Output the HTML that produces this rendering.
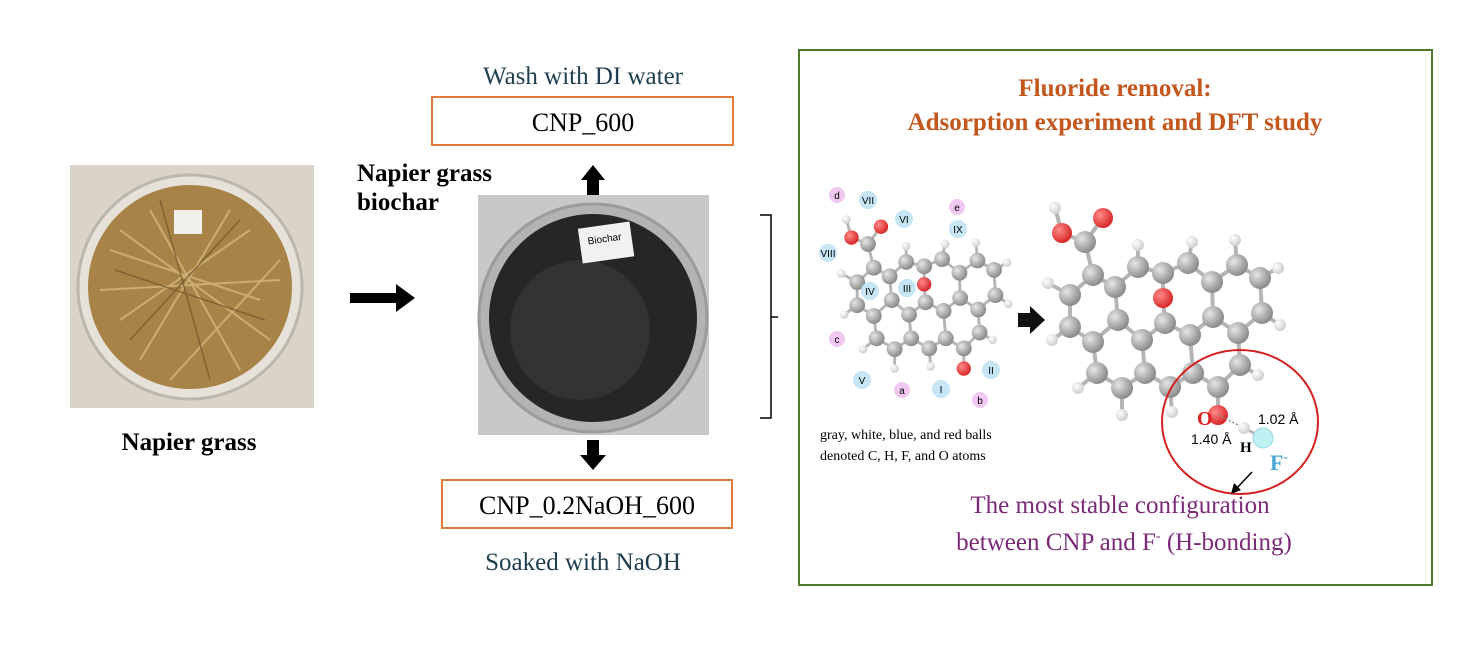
<!DOCTYPE html>
<html><head><meta charset="utf-8"><style>
body{margin:0;background:#fff;}
svg{display:block}
</style></head><body>
<svg width="1475" height="650" viewBox="0 0 1475 650" xmlns="http://www.w3.org/2000/svg" font-family="Liberation Serif, serif">
<defs>
<radialGradient id="gc" cx="35%" cy="35%" r="65%"><stop offset="0" stop-color="#e6e6e6"/><stop offset="1" stop-color="#8c8c8c"/></radialGradient>
<radialGradient id="rc" cx="35%" cy="35%" r="65%"><stop offset="0" stop-color="#ff8a8a"/><stop offset="1" stop-color="#d92a2a"/></radialGradient>
<radialGradient id="hc" cx="35%" cy="35%" r="65%"><stop offset="0" stop-color="#ffffff"/><stop offset="1" stop-color="#cfcfcf"/></radialGradient>
<g id="mol">
<g stroke="#b5b5b5" stroke-width="4" fill="none">
<polyline points="1085,242 1093,275 1070,295 1070,327 1093,342 1118,320 1115,287 1093,275"/>
<polyline points="1115,287 1138,267 1163,273 1163,298 1165,323 1142,340 1118,320"/>
<polyline points="1165,323 1190,335 1213,317 1212,282 1188,263 1163,273"/>
<polyline points="1212,282 1237,265 1260,278 1262,313 1238,333 1213,317"/>
<polyline points="1093,342 1097,373 1122,388 1145,373 1142,340"/>
<polyline points="1145,373 1170,387 1193,373 1190,335"/>
<polyline points="1193,373 1218,387 1240,365 1238,333"/>
<line x1="1218" y1="387" x2="1218" y2="415"/>
<polyline points="1055,208 1062,233 1085,242 1103,218"/>
<line x1="1138" y1="267" x2="1138" y2="245"/><line x1="1188" y1="263" x2="1192" y2="242"/>
<line x1="1237" y1="265" x2="1235" y2="240"/><line x1="1260" y1="278" x2="1278" y2="268"/>
<line x1="1262" y1="313" x2="1280" y2="325"/><line x1="1240" y1="365" x2="1258" y2="375"/>
<line x1="1170" y1="387" x2="1172" y2="412"/><line x1="1122" y1="388" x2="1122" y2="415"/>
<line x1="1097" y1="373" x2="1078" y2="388"/><line x1="1070" y1="327" x2="1052" y2="340"/>
<line x1="1070" y1="295" x2="1048" y2="283"/>
</g>
<g fill="url(#hc)">
<circle cx="1055" cy="208" r="6"/><circle cx="1138" cy="245" r="6"/><circle cx="1192" cy="242" r="6"/><circle cx="1235" cy="240" r="6"/><circle cx="1278" cy="268" r="6"/><circle cx="1280" cy="325" r="6"/><circle cx="1258" cy="375" r="6"/><circle cx="1172" cy="412" r="6"/><circle cx="1122" cy="415" r="6"/><circle cx="1078" cy="388" r="6"/><circle cx="1052" cy="340" r="6"/><circle cx="1048" cy="283" r="6"/>
</g>
<g fill="url(#gc)">
<circle cx="1085" cy="242" r="11"/><circle cx="1093" cy="275" r="11"/><circle cx="1070" cy="295" r="11"/><circle cx="1070" cy="327" r="11"/><circle cx="1093" cy="342" r="11"/><circle cx="1115" cy="287" r="11"/><circle cx="1118" cy="320" r="11"/><circle cx="1138" cy="267" r="11"/><circle cx="1163" cy="273" r="11"/><circle cx="1165" cy="323" r="11"/><circle cx="1142" cy="340" r="11"/><circle cx="1188" cy="263" r="11"/><circle cx="1212" cy="282" r="11"/><circle cx="1213" cy="317" r="11"/><circle cx="1190" cy="335" r="11"/><circle cx="1237" cy="265" r="11"/><circle cx="1260" cy="278" r="11"/><circle cx="1262" cy="313" r="11"/><circle cx="1238" cy="333" r="11"/><circle cx="1097" cy="373" r="11"/><circle cx="1122" cy="388" r="11"/><circle cx="1145" cy="373" r="11"/><circle cx="1170" cy="387" r="11"/><circle cx="1193" cy="373" r="11"/><circle cx="1218" cy="387" r="11"/><circle cx="1240" cy="365" r="11"/>
</g>
<g fill="url(#rc)">
<circle cx="1163" cy="298" r="10"/><circle cx="1062" cy="233" r="10"/><circle cx="1103" cy="218" r="10"/><circle cx="1218" cy="415" r="10"/>
</g>
</g>
</defs>

<!-- left photo -->
<rect x="70" y="165" width="244" height="243" fill="#d9d3c8"/>
<circle cx="190" cy="287" r="112" fill="#e6e2da" stroke="#bdb7ab" stroke-width="3"/>
<circle cx="190" cy="287" r="102" fill="#a88348"/>
<g stroke="#d4b77c" stroke-width="2" opacity="0.8">
<line x1="110" y1="250" x2="260" y2="300"/><line x1="120" y1="320" x2="250" y2="230"/><line x1="140" y1="360" x2="230" y2="210"/><line x1="100" y1="290" x2="280" y2="280"/><line x1="150" y1="210" x2="240" y2="370"/><line x1="120" y1="230" x2="270" y2="340"/><line x1="170" y1="380" x2="280" y2="260"/>
</g>
<g stroke="#6f5428" stroke-width="1.5" opacity="0.7">
<line x1="115" y1="270" x2="265" y2="320"/><line x1="130" y1="340" x2="240" y2="220"/><line x1="160" y1="200" x2="210" y2="380"/>
</g>
<rect x="174" y="210" width="28" height="24" fill="#f2f0ea"/>
<text x="189" y="450" font-size="25" font-weight="bold" text-anchor="middle">Napier grass</text>

<!-- arrow right -->
<rect x="350" y="293" width="48" height="10" fill="#000"/>
<polygon points="396,284 415,298 396,312" fill="#000"/>

<text x="357" y="181" font-size="25" font-weight="bold">Napier grass</text>
<text x="357" y="210" font-size="25" font-weight="bold">biochar</text>

<!-- middle photo -->
<rect x="478" y="195" width="231" height="240" fill="#c9c8c6"/>
<circle cx="593" cy="318" r="114" fill="#b4b3b1" stroke="#9c9b99" stroke-width="3"/>
<circle cx="593" cy="318" r="104" fill="#262626"/>
<circle cx="580" cy="330" r="70" fill="#333"/>
<rect x="580" y="225" width="52" height="35" fill="#f1f1ef" transform="rotate(-8 606 242)"/>
<text x="588" y="242" font-size="10" font-family="Liberation Sans, sans-serif" transform="rotate(-8 606 242)">Biochar</text>

<!-- up/down arrows -->
<rect x="587" y="178" width="12" height="17" fill="#000"/><polygon points="581,180 593,165 605,180" fill="#000"/>
<rect x="587" y="440" width="12" height="16" fill="#000"/><polygon points="580,455 606,455 593,470" fill="#000"/>

<text x="583" y="84" font-size="25" text-anchor="middle" fill="#1f3e4e">Wash with DI water</text>
<rect x="432" y="97" width="301" height="48" fill="none" stroke="#e07b39" stroke-width="2"/>
<text x="583" y="131" font-size="26" text-anchor="middle">CNP_600</text>
<rect x="442" y="480" width="290" height="48" fill="none" stroke="#e07b39" stroke-width="2"/>
<text x="587" y="514" font-size="26" text-anchor="middle">CNP_0.2NaOH_600</text>
<text x="583" y="570" font-size="25" text-anchor="middle" fill="#1f3e4e">Soaked with NaOH</text>

<!-- bracket -->
<path d="M760,215 H771 V418 H760" fill="none" stroke="#000" stroke-width="1.5"/>
<line x1="771" y1="317" x2="778" y2="317" stroke="#000" stroke-width="1.5"/>

<!-- green box -->
<rect x="799" y="50" width="633" height="535" fill="none" stroke="#4f7b2f" stroke-width="2"/>
<text x="1115" y="96" font-size="25" font-weight="bold" text-anchor="middle" fill="#c3571d">Fluoride removal:</text>
<text x="1115" y="130" font-size="25" font-weight="bold" text-anchor="middle" fill="#c3571d">Adsorption experiment and DFT study</text>

<!-- left molecule -->
<use href="#mol" transform="translate(868,244) scale(0.72) translate(-1085,-242)"/>
<g font-family="Liberation Sans, sans-serif" font-size="10" text-anchor="middle">
<circle cx="837" cy="195" r="8" fill="#f0c8f0"/><text x="837" y="199">d</text>
<circle cx="868" cy="200" r="9" fill="#c6e6f6"/><text x="868" y="204">VII</text>
<circle cx="904" cy="219" r="9" fill="#c6e6f6"/><text x="904" y="223">VI</text>
<circle cx="957" cy="207" r="8" fill="#f0c8f0"/><text x="957" y="211">e</text>
<circle cx="958" cy="229" r="9" fill="#c6e6f6"/><text x="958" y="233">IX</text>
<circle cx="828" cy="253" r="9" fill="#c6e6f6"/><text x="828" y="257">VIII</text>
<circle cx="870" cy="291" r="9" fill="#c6e6f6"/><text x="870" y="295">IV</text>
<circle cx="907" cy="288" r="9" fill="#c6e6f6"/><text x="907" y="292">III</text>
<circle cx="837" cy="339" r="8" fill="#f0c8f0"/><text x="837" y="343">c</text>
<circle cx="862" cy="380" r="9" fill="#c6e6f6"/><text x="862" y="384">V</text>
<circle cx="902" cy="390" r="8" fill="#f0c8f0"/><text x="902" y="394">a</text>
<circle cx="941" cy="389" r="9" fill="#c6e6f6"/><text x="941" y="393">I</text>
<circle cx="991" cy="370" r="9" fill="#c6e6f6"/><text x="991" y="374">II</text>
<circle cx="980" cy="400" r="8" fill="#f0c8f0"/><text x="980" y="404">b</text>
</g>
<text x="820" y="439" font-size="14">gray, white, blue, and red balls</text>
<text x="820" y="460" font-size="14">denoted C, H, F, and O atoms</text>

<!-- arrow between -->
<rect x="1018" y="313" width="14" height="14" fill="#111"/><polygon points="1030,306 1045,320 1030,334" fill="#111"/>

<!-- right molecule -->
<use href="#mol"/>
<line x1="1218" y1="415" x2="1244" y2="428" stroke="#888" stroke-width="1.5" stroke-dasharray="2,2"/>
<line x1="1244" y1="428" x2="1263" y2="438" stroke="#bbb" stroke-width="3"/>
<circle cx="1244" cy="428" r="6" fill="url(#hc)"/>
<circle cx="1263" cy="438" r="10" fill="#bff0f2" stroke="#9bd9dd"/>
<text x="1197" y="425" font-size="20" font-weight="bold" fill="#d22">O</text>
<text x="1240" y="452" font-size="15" font-weight="bold">H</text>
<text x="1270" y="470" font-size="22" font-weight="bold" fill="#4aa8d8">F<tspan dy="-9" font-size="13">-</tspan></text>
<text x="1258" y="424" font-size="14" font-family="Liberation Sans, sans-serif">1.02 Å</text>
<text x="1191" y="444" font-size="14" font-family="Liberation Sans, sans-serif">1.40 Å</text>
<ellipse cx="1240" cy="422" rx="78" ry="72" fill="none" stroke="#d42020" stroke-width="2"/>
<line x1="1252" y1="472" x2="1236" y2="489" stroke="#000" stroke-width="1.5"/>
<polygon points="1231,494 1234,483 1241,490" fill="#000"/>

<text x="1120" y="513" font-size="25" text-anchor="middle" fill="#7b2a78">The most stable configuration</text>
<text x="1124" y="550" font-size="25" text-anchor="middle" fill="#7b2a78">between CNP and F<tspan dy="-10" font-size="14">-</tspan><tspan dy="10"> (H-bonding)</tspan></text>
</svg>
</body></html>
